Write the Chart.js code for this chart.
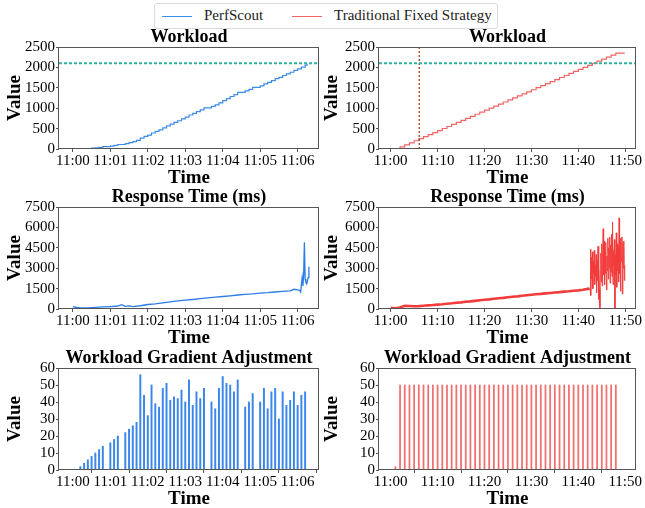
<!DOCTYPE html>
<html lang="en">
<head>
<meta charset="UTF-8">
<title>PerfScout vs Traditional Fixed Strategy</title>
<script src="https://cdn.jsdelivr.net/npm/chart.js@4"></script>
<style>
    body {
        margin: 0;
        background: #fff;
        width: 645px;
        height: 508px;
        position: relative;
        overflow: hidden;
        font-family: 'Liberation Serif', serif;
    }
    canvas { position: absolute; }
    .legend {
        position: absolute;
        left: 154px;
        top: 3px;
        width: 344px;
        height: 26px;
        border: 1px solid #dcdcdc;
        border-radius: 3px;
        box-sizing: border-box;
        font-size: 15px;
        color: #222;
    }
    .legend span { position: absolute; top: 3px; white-space: nowrap; }
    .legend i { position: absolute; top: 12px; width: 30px; height: 0; border-top: 1.4px solid; }
</style>
</head>
<body>
<div class="legend">
    <i style="left:7px;border-color:#3d8be8"></i><span style="left:49px">PerfScout</span>
    <i style="left:137px;border-color:#f26464"></i><span style="left:179px">Traditional Fixed Strategy</span>
</div>
<canvas id="c1"></canvas>
<canvas id="c2"></canvas>
<canvas id="c3"></canvas>
<canvas id="c4"></canvas>
<canvas id="c5"></canvas>
<canvas id="c6"></canvas>
<script>
// time is in minutes after 11:00
// PerfScout
const psGradTime = [0.2, 0.3, 0.4, 0.5, 0.6, 0.7, 0.8, 1.0, 1.1, 1.2, 1.4, 1.5, 1.6, 1.7, 1.8, 1.9, 2.0, 2.1, 2.2, 2.3,
    2.4, 2.5, 2.6, 2.7, 2.8, 2.9, 3.0, 3.1, 3.2, 3.3, 3.4, 3.5, 3.7, 3.8, 3.9, 4.0, 4.1, 4.2, 4.3, 4.4,
    4.6, 4.7, 4.8, 5.0, 5.1, 5.2, 5.3, 5.4, 5.5, 5.6, 5.7, 5.8, 5.9, 6.0, 6.1, 6.2];
const psGradValue = [2, 4, 6, 8, 10, 12, 14, 16, 18, 20, 22, 24, 26, 28, 56, 44, 32, 50, 39, 37,
    48, 51, 41, 43, 42, 47, 40, 53, 38, 46, 42, 48, 40, 36, 48, 55, 51, 50, 46, 53,
    37, 40, 45, 40, 48, 36, 46, 48, 30, 46, 38, 41, 46, 38, 44, 46];
const psWorkTime = [-0.05, 0.2, 0.3, 0.4, 0.5, 0.6, 0.7, 0.8, 1.0, 1.1, 1.2, 1.4, 1.5, 1.6, 1.7, 1.8, 1.9, 2.0, 2.1, 2.2, 2.3,
    2.4, 2.5, 2.6, 2.7, 2.8, 2.9, 3.0, 3.1, 3.2, 3.3, 3.4, 3.5, 3.7, 3.8, 3.9, 4.0, 4.1, 4.2, 4.3, 4.4,
    4.6, 4.7, 4.8, 5.0, 5.1, 5.2, 5.3, 5.4, 5.5, 5.6, 5.7, 5.8, 5.9, 6.0, 6.1, 6.2, 6.25];
const psWorkValue = [0, 2, 6, 12, 20, 30, 42, 56, 72, 90, 110, 132, 156, 182, 210, 266, 310, 342, 392, 431, 468,
    516, 567, 608, 651, 693, 740, 780, 833, 871, 917, 959, 1007, 1047, 1083, 1131, 1186, 1237, 1287, 1333, 1386,
    1423, 1463, 1508, 1548, 1596, 1632, 1678, 1726, 1756, 1802, 1840, 1881, 1927, 1965, 2009, 2055, 2095];
const psRespTime = [0.0, 0.1, 0.2, 0.4, 0.6, 0.8, 1.0, 1.2, 1.3, 1.4, 1.5, 1.6, 1.8, 2.0, 2.2, 2.4, 2.6, 2.8, 3.0, 3.2,
    3.4, 3.6, 3.8, 4.0, 4.2, 4.4, 4.6, 4.8, 5.0, 5.2, 5.4, 5.6, 5.8, 5.9, 6.0, 6.05, 6.08, 6.1, 6.12, 6.14,
    6.16, 6.18, 6.2, 6.22, 6.25, 6.28, 6.3];
const psRespValue = [170, 110, 80, 90, 120, 150, 180, 220, 320, 200, 230, 170, 240, 330, 380, 450, 520, 590, 650, 700,
    760, 820, 870, 920, 970, 1030, 1080, 1110, 1170, 1200, 1250, 1290, 1340, 1450, 1400, 1380, 1250, 1800, 2300, 1700,
    2500, 4900, 2200, 2000, 1900, 2300, 3100];

// Traditional fixed strategy
const tfGradTime = [1, 2, 3, 4, 5, 6, 7, 8, 9, 10, 11, 12, 13, 14, 15, 16, 17, 18, 19, 20, 21, 22, 23, 24,
    25, 26, 27, 28, 29, 30, 31, 32, 33, 34, 35, 36, 37, 38, 39, 40, 41, 42, 43, 44, 45, 46, 47, 48];
const tfGradValue = [2, 50, 50, 50, 50, 50, 50, 50, 50, 50, 50, 50, 50, 50, 50, 50, 50, 50, 50, 50, 50, 50, 50, 50,
    50, 50, 50, 50, 50, 50, 50, 50, 50, 50, 50, 50, 50, 50, 50, 50, 50, 50, 50, 50, 50, 50, 50, 50];
const tfWorkTime = [0, 1, 2, 3, 4, 5, 6, 7, 8, 9, 10, 11, 12, 13, 14, 15, 16, 17, 18, 19, 20, 21, 22, 23, 24,
    25, 26, 27, 28, 29, 30, 31, 32, 33, 34, 35, 36, 37, 38, 39, 40, 41, 42, 43, 44, 45, 46, 47, 48, 49.9];
const tfWorkValue = [0, 2, 52, 102, 152, 202, 252, 302, 352, 402, 452, 502, 552, 602, 652, 702, 752, 802, 852, 902, 952,
    1002, 1052, 1102, 1152, 1202, 1252, 1302, 1352, 1402, 1452, 1502, 1552, 1602, 1652, 1702, 1752, 1802, 1852, 1902,
    1952, 2002, 2052, 2102, 2152, 2202, 2252, 2302, 2352, 2352];
const tfRespTime = [0, 1, 2, 3, 4, 5, 6, 7, 8, 9, 10, 11, 12, 13, 14, 15, 16, 17, 18, 19, 20, 21, 22, 23, 24,
    25, 26, 27, 28, 29, 30, 31, 32, 33, 34, 35, 36, 37, 38, 39, 40, 41, 42, 42.4,
    42.5, 42.6, 42.7, 42.8, 42.9, 43.0, 43.1, 43.2, 43.3, 43.4, 43.5, 43.6, 43.7, 43.8, 43.9,
    44.0, 44.1, 44.2, 44.3, 44.4, 44.5, 44.6, 44.7, 44.8, 44.9, 45.0, 45.1, 45.2, 45.3, 45.4,
    45.5, 45.6, 45.7, 45.8, 45.9, 46.0, 46.1, 46.2, 46.3, 46.4, 46.5, 46.6, 46.7, 46.8, 46.9,
    47.0, 47.1, 47.2, 47.3, 47.4, 47.5, 47.6, 47.7, 47.8, 47.9, 48.0, 48.1, 48.2, 48.3, 48.4,
    48.5, 48.6, 48.7, 48.8, 48.9, 49.0, 49.1, 49.2, 49.3, 49.4, 49.5, 49.6, 49.7, 49.8, 49.9];
const tfRespValue = [80, 60, 110, 240, 220, 200, 210, 240, 270, 290, 320, 350, 390, 420, 460, 490, 530, 560, 600, 640,
    680, 710, 750, 790, 820, 860, 900, 930, 970, 1010, 1050, 1080, 1110, 1150, 1180, 1210, 1240, 1280, 1300, 1340,
    1370, 1420, 1480, 1500,
    1500, 4400, 1000, 3800, 2200, 4200, 1500, 3500, 2600, 4300, 1800, 3200, 2400, 4000, 1200,
    3600, 2100, 4600, 700, 3300, 1500, 100, 2800, 4100, 2000, 4800, 1700, 3700, 5900, 2500,
    5000, 1800, 4200, 2600, 4900, 1400, 3900, 2800, 5200, 2200, 4500, 3000, 5300, 1900, 4700,
    2700, 5500, 2400, 6400, 1800, 4300, 3200, 5100, 0, 4000, 2500, 5600, 1600, 4800, 2800,
    4700, 2000, 6700, 2600, 5200, 1300, 4600, 3500, 5300, 1100, 4900, 3000, 5000, 2100, 3200];

const capacityLine = 2100;   // workload target
const psFinishTime = 6.1;    // PerfScout reaches the target

const leftTicks = [0, 1, 2, 3, 4, 5, 6];
const leftTickLabels = ['11:00', '11:01', '11:02', '11:03', '11:04', '11:05', '11:06'];
const rightTicks = [0, 10, 20, 30, 40, 50];
const rightTickLabels = ['11:00', '11:10', '11:20', '11:30', '11:40', '11:50'];
const workTicks = [0, 500, 1000, 1500, 2000, 2500];
const respTicks = [0, 1500, 3000, 4500, 6000, 7500];
const gradTicks = [0, 10, 20, 30, 40, 50, 60];

const SERIF = "'Liberation Serif', 'Times New Roman', serif";
const BLUE = '#2b7de9', BLUE_LT = '#3d8be8', RED = '#f23c3c', RED_LT = '#f26464';

function zip(xs, ys) {
    return xs.map((x, i) => ({ x: x, y: ys[i] }));
}

// box around the axes, title centred over the axes (like matplotlib)
const frame = {
    id: 'frame',
    afterDraw(chart, args, opts) {
        const a = chart.chartArea, ctx = chart.ctx;
        ctx.save();
        ctx.strokeStyle = '#555';
        ctx.lineWidth = 1;
        ctx.strokeRect(Math.round(a.left) - 0.5, Math.round(a.top) + 0.5,
            Math.round(a.right - a.left), Math.round(a.bottom - a.top) - 1);
        ctx.fillStyle = '#000';
        ctx.font = 'bold 18px ' + SERIF;
        ctx.textAlign = 'center';
        ctx.textBaseline = 'middle';
        ctx.fillText(opts.text, (a.left + a.right) / 2, a.top - 10);
        ctx.restore();
    }
};

const leftX = { min: -0.37, max: 6.57, ticks: leftTicks, labels: leftTickLabels };
const rightX = { min: -2.49, max: 52.3, ticks: rightTicks, labels: rightTickLabels };

function panel(id, pos, title, datasets, x, y) {
    const cv = document.getElementById(id);
    cv.width = pos.w;
    cv.height = pos.h;
    cv.style.left = pos.l + 'px';
    cv.style.top = pos.t + 'px';
    new Chart(cv, {
        type: 'line',
        data: { datasets: datasets },
        options: {
            responsive: false,
            animation: false,
            events: [],
            layout: { padding: { left: 0, right: pos.pr, top: 19, bottom: 0 } },
            elements: { point: { radius: 0 } },
            plugins: {
                legend: { display: false },
                tooltip: { enabled: false },
                title: { display: false },
                frame: { text: title }
            },
            scales: {
                x: {
                    type: 'linear', min: x.min, max: x.max, offset: false,
                    afterBuildTicks: s => { s.ticks = x.ticks.map(v => ({ value: v })); },
                    afterFit: s => { s.height = 40; s.paddingLeft = 0; s.paddingRight = 0; },
                    ticks: {
                        callback: v => x.labels[x.ticks.indexOf(v)],
                        font: { family: SERIF, size: 15 }, color: '#000',
                        padding: 0, maxRotation: 0, autoSkip: false
                    },
                    grid: { drawOnChartArea: false, drawTicks: true, tickLength: 3, color: '#555' },
                    border: { display: false },
                    title: {
                        display: true, text: 'Time', color: '#000',
                        font: { family: SERIF, size: 19, weight: 'bold', lineHeight: 1.2 },
                        padding: { top: 0, bottom: 0 }
                    }
                },
                y: {
                    min: y.ticks[0], max: y.ticks[y.ticks.length - 1],
                    afterBuildTicks: s => { s.ticks = y.ticks.map(v => ({ value: v })); },
                    afterFit: s => { s.width = 59; s.paddingTop = 0; s.paddingBottom = 0; },
                    ticks: {
                        callback: v => String(v),
                        font: { family: SERIF, size: 15 }, color: '#000', padding: 1, autoSkip: false
                    },
                    grid: { drawOnChartArea: false, drawTicks: true, tickLength: 3, color: '#555' },
                    border: { display: false },
                    title: {
                        display: true, text: 'Value', color: '#000',
                        font: { family: SERIF, size: 19, weight: 'bold', lineHeight: 1.2 },
                        padding: { top: pos.yp, bottom: 0 }
                    }
                }
            }
        },
        plugins: [frame]
    });
}

function geom(col, row) {
    const tops = [28, 188, 349];
    return col === 0
        ? { l: 0, t: tops[row], w: 330, h: 161, pr: 11, yp: 4 }
        : { l: 320, t: tops[row], w: 325, h: 161, pr: 9, yp: 1 };
}

function capacity(x) {
    return {
        data: [{ x: x.min, y: capacityLine }, { x: x.max, y: capacityLine }],
        borderColor: '#2bb3a3', borderWidth: 2, borderDash: [3, 2]
    };
}

// Workload
panel('c1', geom(0, 0), 'Workload', [
    capacity(leftX),
    { data: zip(psWorkTime, psWorkValue), borderColor: BLUE_LT, borderWidth: 1.2, stepped: true }
], leftX, { ticks: workTicks });

panel('c2', geom(1, 0), 'Workload', [
    capacity(rightX),
    { data: [{ x: psFinishTime, y: 0 }, { x: psFinishTime, y: 2500 }], borderColor: '#a0522d', borderWidth: 1.5, borderDash: [2, 2] },
    { data: zip(tfWorkTime, tfWorkValue), borderColor: RED_LT, borderWidth: 1.2, stepped: true }
], rightX, { ticks: workTicks });

// Response time
panel('c3', geom(0, 1), 'Response Time (ms)', [
    { data: zip(psRespTime, psRespValue), borderColor: BLUE, borderWidth: 1.3 }
], leftX, { ticks: respTicks });

panel('c4', geom(1, 1), 'Response Time (ms)', [
    {
        data: zip(tfRespTime, tfRespValue), borderColor: RED, borderWidth: 1,
        segment: { borderWidth: c => c.p0.parsed.x < 42.4 ? 2.6 : 1 }
    }
], rightX, { ticks: respTicks });

// Workload gradient adjustment
panel('c5', geom(0, 2), 'Workload Gradient Adjustment', [
    { type: 'bar', data: zip(psGradTime, psGradValue), backgroundColor: '#3a86ea', barThickness: 1.3 }
], leftX, { ticks: gradTicks });

panel('c6', geom(1, 2), 'Workload Gradient Adjustment', [
    { type: 'bar', data: zip(tfGradTime, tfGradValue), backgroundColor: '#f07070', barThickness: 1.1 }
], rightX, { ticks: gradTicks });
</script>
</body>
</html>
